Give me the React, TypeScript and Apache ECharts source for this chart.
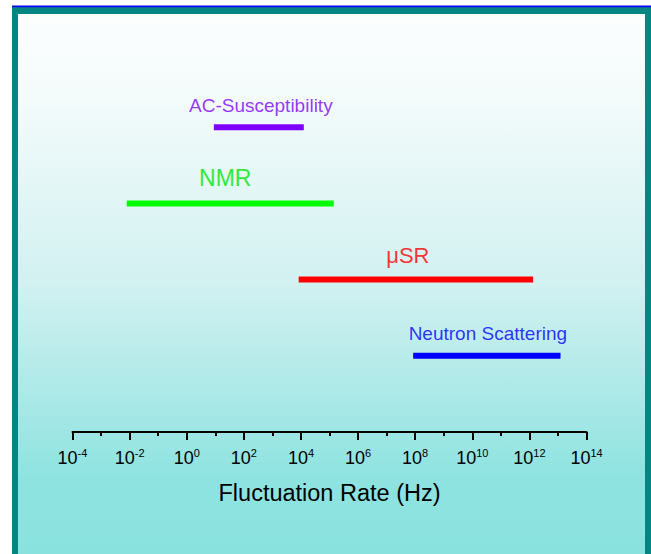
import React, { useEffect, useRef } from "react";
import * as echarts from "echarts";

// Techniques and their accessible fluctuation-rate windows (log10 of Hz)
const techniques = ["AC-Susceptibility", "NMR", "μSR", "Neutron Scattering"];
const startExp = [0.95, -2.1, 3.92, 7.93];
const endExp = [4.1, 5.15, 12.13, 13.09];
const rowLevel = [4, 3, 2, 1];

// Axis ticks (log10 of Hz)
const tickMin = -4;
const tickMax = 14;
const tickStep = 2;

const barColors = ["#8000ff", "#00ff00", "#ff0000", "#0000ff"];
const textColors = ["#7f00ff", "#00e600", "#ff0000", "#0000ff"];
const labelFont = [19, 23, 22, 19];
const labelOffset: [number, number][] = [
  [2, -22],
  [-5, -25],
  [-8, -24],
  [1, -22.5],
];

const FONT = "'Liberation Sans', Arial, sans-serif";

export default function App() {
  const ref = useRef<HTMLDivElement>(null);
  useEffect(() => {
    if (!ref.current) return;
    const chart = echarts.init(ref.current, undefined, { renderer: "svg" });
    const series: any[] = [];
    techniques.forEach((name, i) => {
      series.push({
        type: "line",
        name,
        data: [
          [startExp[i], rowLevel[i]],
          [endExp[i], rowLevel[i]],
        ],
        symbol: "none",
        lineStyle: { color: barColors[i], width: 6, cap: "butt" },
        z: 3,
      });
      series.push({
        type: "scatter",
        name: name + " label",
        data: [[(startExp[i] + endExp[i]) / 2, rowLevel[i]]],
        symbolSize: 0,
        label: {
          show: true,
          position: "inside",
          offset: labelOffset[i],
          formatter: name,
          color: textColors[i],
          fontSize: labelFont[i],
          fontFamily: FONT,
        },
        z: 4,
      });
    });

    chart.setOption({
      animation: false,
      backgroundColor: "#ffffff",
      graphic: [
        {
          type: "rect",
          z: -10,
          shape: { x: 12, y: 7, width: 639, height: 547 },
          style: { fill: "#068683" },
        },
        {
          type: "rect",
          z: -9,
          shape: { x: 12, y: 5.5, width: 639, height: 1.8 },
          style: { fill: "#0000ff" },
        },
        {
          type: "rect",
          z: -8,
          shape: { x: 18, y: 14, width: 627, height: 540 },
          style: {
            fill: new echarts.graphic.LinearGradient(0, 0, 0, 1, [
              { offset: 0, color: "#fcfefe" },
              { offset: 0.15, color: "#f4fbfb" },
              { offset: 0.5, color: "#d2f1f1" },
              { offset: 0.86, color: "#8ee3e0" },
              { offset: 1, color: "#8ae2df" },
            ]),
          },
        },
      ],
      grid: { left: 72.5, top: 51, width: 514, height: 381, containLabel: false },
      xAxis: {
        type: "value",
        min: tickMin,
        max: tickMax,
        interval: tickStep,
        name: "Fluctuation Rate (Hz)",
        nameLocation: "middle",
        nameGap: 61,
        nameTextStyle: {
          fontSize: 23.5,
          color: "#000",
          fontFamily: FONT,
          verticalAlign: "middle",
        },
        axisLine: { show: true, lineStyle: { color: "#000", width: 2 } },
        axisTick: { show: true, inside: false, length: 8, lineStyle: { color: "#000", width: 2 } },
        minorTick: { show: true, splitNumber: 2, length: 4, lineStyle: { color: "#000", width: 2 } },
        splitLine: { show: false },
        minorSplitLine: { show: false },
        axisLabel: {
          margin: 15,
          formatter: (v: number) => `{b|10}{s|${v}}`,
          rich: {
            b: { fontSize: 18, lineHeight: 22, color: "#000", fontFamily: FONT },
            s: { fontSize: 11, lineHeight: 11, verticalAlign: "top", color: "#000", fontFamily: FONT },
          },
        },
      },
      yAxis: { type: "value", min: 0, max: 5, show: false },
      series,
    });
    return () => chart.dispose();
  }, []);
  return (
    <div
      ref={ref}
      style={{ position: "fixed", left: 0, top: 0, width: 651, height: 554 }}
    />
  );
}
